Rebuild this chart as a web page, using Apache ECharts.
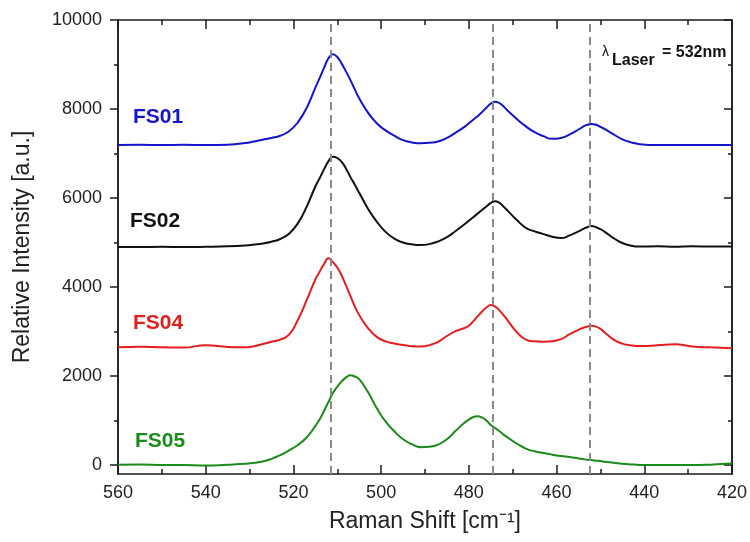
<!DOCTYPE html>
<html>
<head>
<meta charset="utf-8">
<script src="https://cdn.jsdelivr.net/npm/echarts@6/dist/echarts.min.js"></script>
<style>
  html, body { margin: 0; padding: 0; background: #fff; }
  #chart { width: 750px; height: 542px; }
</style>
</head>
<body>
<div id="chart"></div>
<script>
// Raman shift sample points [cm-1], denser around the bands
const shift = [560, 555, 550, 545, 540, 535,
  531, 529, 527, 525, 523, 521, 519, 517, 515,
  514, 513, 512, 511, 510, 509, 508, 507, 506, 505,
  503, 501, 499, 497, 495, 493, 491, 489, 487, 485, 483, 481,
  480, 479, 478, 477, 476, 475, 474, 473, 472, 471,
  469, 467, 465, 463, 461, 459, 457, 455,
  454, 453, 452, 451, 450, 449,
  447, 445, 443, 441, 437, 433, 429, 425, 420]

const fs01 = [7190, 7195, 7190, 7195, 7190, 7200,
  7235, 7270, 7310, 7350, 7400, 7500, 7700, 8020, 8480,
  8700, 8930, 9140, 9230, 9170, 9020, 8840, 8650, 8440, 8240,
  7920, 7680, 7520, 7400, 7300, 7250, 7230, 7240, 7270, 7350, 7470, 7600,
  7680, 7760, 7840, 7930, 8030, 8120, 8165, 8130, 8050, 7950,
  7770, 7610, 7480, 7390, 7330, 7350, 7430, 7540,
  7600, 7645, 7665, 7645, 7600, 7550,
  7430, 7320, 7250, 7210, 7190, 7190, 7190, 7190, 7190]

const fs02 = [4900, 4900, 4905, 4900, 4905, 4915,
  4935, 4955, 4980, 5020, 5080, 5200, 5430, 5800, 6260,
  6450, 6650, 6830, 6930, 6900, 6810, 6660, 6470, 6300, 6120,
  5760, 5470, 5240, 5090, 5000, 4960, 4945, 4965, 5025, 5120, 5260, 5410,
  5490, 5570, 5650, 5730, 5810, 5890, 5930, 5890, 5800, 5700,
  5500, 5330, 5250, 5190, 5130, 5100, 5160, 5250,
  5300, 5345, 5370, 5345, 5300, 5240,
  5100, 4990, 4930, 4910, 4915, 4905, 4915, 4910, 4910]

const fs04 = [2650, 2660, 2650, 2640, 2695, 2655,
  2645, 2670, 2720, 2770, 2820, 2930, 3260, 3700, 4170,
  4350, 4520, 4645, 4560, 4440, 4260, 4030, 3800, 3560, 3370,
  3080, 2880, 2780, 2730, 2700, 2670, 2665, 2695, 2770, 2900, 3010, 3080,
  3130, 3230, 3340, 3450, 3540, 3595, 3560, 3470, 3360, 3230,
  2980, 2820, 2780, 2770, 2780, 2830, 2940, 3040,
  3080, 3115, 3130, 3110, 3060, 2980,
  2820, 2730, 2690, 2675, 2690, 2715, 2665, 2645, 2625]

const fs05 = [10, 15, 5, 0, -10, 10,
  30, 50, 80, 140, 225, 330, 450, 620, 880,
  1030, 1220, 1420, 1620, 1760, 1880, 1970, 2020, 1990, 1930,
  1640, 1280, 980, 760, 580, 470, 400, 410, 460, 580, 770, 950,
  1020, 1080, 1100, 1070, 1000, 900, 830, 760, 680, 610,
  480, 370, 310, 270, 235, 205, 180, 150,
  135, 120, 112, 100, 90, 75,
  55, 30, 15, 5, 0, 0, 0, 10, 35]

const peakLines = [511.6, 474.6, 452.5]
const yMajor = [0, 2000, 4000, 6000, 8000, 10000]
const yMinor = [1000, 3000, 5000, 7000, 9000]

const FONT = 'Liberation Sans, Arial, sans-serif'
const AXIS_COLOR = '#1a1a1a'

const chart = echarts.init(document.getElementById('chart'))

function pairs(values) {
  return shift.map((x, i) => [x, values[i]])
}

function xAxisBase(position, showLabel) {
  return {
    type: 'value',
    position,
    inverse: true,
    min: 420,
    max: 560,
    interval: 20,
    axisLine: { show: true, onZero: false, lineStyle: { color: AXIS_COLOR, width: 1.5 } },
    axisTick: { show: true, inside: true, length: 9, lineStyle: { color: AXIS_COLOR, width: 1.5 } },
    minorTick: { show: true, splitNumber: 2, length: 5, lineStyle: { color: AXIS_COLOR, width: 1.5 } },
    axisLabel: { show: showLabel, color: '#222', fontSize: 18, fontFamily: FONT, margin: 10 },
    splitLine: { show: false },
  }
}

function yAxisBase(position, ticks, len, inside, labels) {
  return {
    type: 'value',
    position,
    min: -200,
    max: 10000,
    axisLine: { show: true, onZero: false, lineStyle: { color: AXIS_COLOR, width: 1.5 } },
    axisTick: { show: true, inside, length: len, customValues: ticks, lineStyle: { color: AXIS_COLOR, width: 1.5 } },
    axisLabel: labels
      ? { show: true, customValues: ticks, formatter: v => String(v), color: '#222', fontSize: 18, fontFamily: FONT, margin: 16 }
      : { show: false },
    splitLine: { show: false },
  }
}

const leftMain = yAxisBase('left', yMajor, 8, false, true)
leftMain.name = 'Relative Intensity [a.u.]'
leftMain.nameLocation = 'middle'
leftMain.nameGap = 84
leftMain.nameTextStyle = { color: '#222', fontSize: 23, fontFamily: FONT }

const bottomAxis = xAxisBase('bottom', true)
bottomAxis.name = 'Raman Shift [cm⁻¹]'
bottomAxis.nameLocation = 'middle'
bottomAxis.nameGap = 36
bottomAxis.nameTextStyle = { color: '#222', fontSize: 23, fontFamily: FONT }

function line(name, values, color, extra) {
  return Object.assign({
    name,
    type: 'line',
    xAxisIndex: 0,
    yAxisIndex: 0,
    data: pairs(values),
    smooth: 0.5,
    showSymbol: false,
    silent: true,
    lineStyle: { color, width: 2 },
  }, extra || {})
}

chart.setOption({
  animation: false,
  backgroundColor: '#fff',
  grid: { left: 118, right: 17, top: 20, bottom: 68 },
  xAxis: [bottomAxis, xAxisBase('top', false)],
  yAxis: [
    leftMain,
    yAxisBase('left', yMinor, 4, false, false),
    yAxisBase('right', yMajor, 8, true, false),
    yAxisBase('right', yMinor, 4, true, false),
  ],
  series: [
    line('FS05', fs05, '#1a8a1a'),
    line('FS04', fs04, '#e41e1e'),
    line('FS02', fs02, '#111111'),
    line('FS01', fs01, '#1414cc', {
      markLine: {
        silent: true,
        symbol: 'none',
        label: { show: false },
        lineStyle: { color: '#8a8a8a', width: 2, type: [8, 5] },
        data: peakLines.map(v => ({ xAxis: v })),
      },
    }),
  ],
  graphic: [
    { type: 'text', left: 133, top: 107, style: { text: 'FS01', fill: '#1414cc', font: 'bold 21px ' + FONT } },
    { type: 'text', left: 130, top: 211, style: { text: 'FS02', fill: '#111', font: 'bold 21px ' + FONT } },
    { type: 'text', left: 133, top: 313, style: { text: 'FS04', fill: '#e41e1e', font: 'bold 21px ' + FONT } },
    { type: 'text', left: 135, top: 431, style: { text: 'FS05', fill: '#1a8a1a', font: 'bold 21px ' + FONT } },
    { type: 'text', left: 602, top: 45, style: { text: 'λ', fill: '#111', font: '14px ' + FONT } },
    { type: 'text', left: 612, top: 53, style: { text: 'Laser', fill: '#111', font: 'bold 16px ' + FONT } },
    { type: 'text', left: 662, top: 45, style: { text: '= 532nm', fill: '#111', font: 'bold 16px ' + FONT } },
  ],
})
</script>
</body>
</html>
